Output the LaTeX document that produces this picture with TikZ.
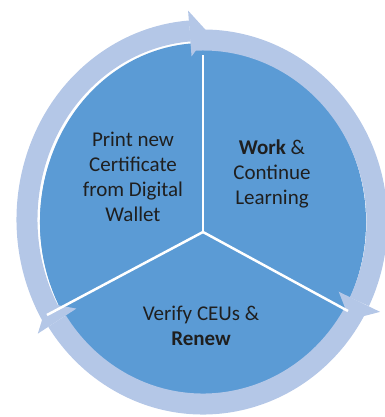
\documentclass[tikz,border=0pt]{standalone}
\usepackage{fontspec}
\setmainfont{Carlito}
\usetikzlibrary{calc}
\definecolor{segblue}{HTML}{5B9BD5}
\definecolor{ringblue}{HTML}{B4C7E7}
\begin{document}
\begin{tikzpicture}[x=1pt,y=1pt,
  segment/.style={fill=segblue},
  ringarc/.style={draw=ringblue, line width=21pt},
  arrowtip/.style={fill=ringblue},
  divider/.style={draw=white, line width=2.5pt},
  label/.style={font=\fontsize{21}{25}\selectfont, align=center, text=black!88, inner sep=0pt}]
\useasboundingbox (0,0) rectangle (384,417);
\coordinate (C) at (203,195);
\coordinate (M) at (203,185);
% blue disc
\fill[segment] (C) ellipse[x radius=163, y radius=175];
\fill[segment] (M) -- ($(C)+(210:163 and 179)$) arc[start angle=210, end angle=90, x radius=163, y radius=179] -- cycle;
% ring arcs
\draw[ringarc] ($(C)+(93:174 and 182)$) arc[start angle=93, end angle=-26, x radius=174, y radius=182];
\draw[ringarc] ($(C)+(-29:174 and 182)$) arc[start angle=-29, end angle=-147, x radius=174, y radius=182];
\draw[ringarc] ($(C)+(211:176 and 184)$) arc[start angle=211, end angle=94.3, x radius=176, y radius=189];
% arrow heads
\fill[arrowtip] ($(C)+(94.3:199 and 212)$) -- ($(C)+(88.2:176 and 189)$) -- ($(C)+(94.3:153 and 166)$) -- cycle;
\fill[arrowtip] ($(C)+(-26:197 and 205)$) -- ($(C)+(-32.5:174 and 182)$) -- ($(C)+(-26:151 and 159)$) -- cycle;
\fill[arrowtip] ($(C)+(-147:197 and 205)$) -- ($(C)+(-153.5:174 and 182)$) -- ($(C)+(-147:151 and 159)$) -- cycle;
% dividers
\coordinate (T) at (203,362);
\coordinate (R) at (348,106);
\coordinate (L) at (47,102);
\draw[divider] (M) -- (T);
\draw[divider] (M) -- (R);
\draw[divider] (M) -- (L);
% labels (base anchor = baseline of last line)
\node[label, anchor=base] (print) at (133,195) {Print new\\Certificate\\from Digital\\Wallet};
\node[label, anchor=base] (work) at (272,212) {\textbf{Work} \&\\Continue\\Learning};
\node[label, anchor=base] (verify) at (201,71) {Verify CEUs \&\\\textbf{Renew}};
\end{tikzpicture}
\end{document}
